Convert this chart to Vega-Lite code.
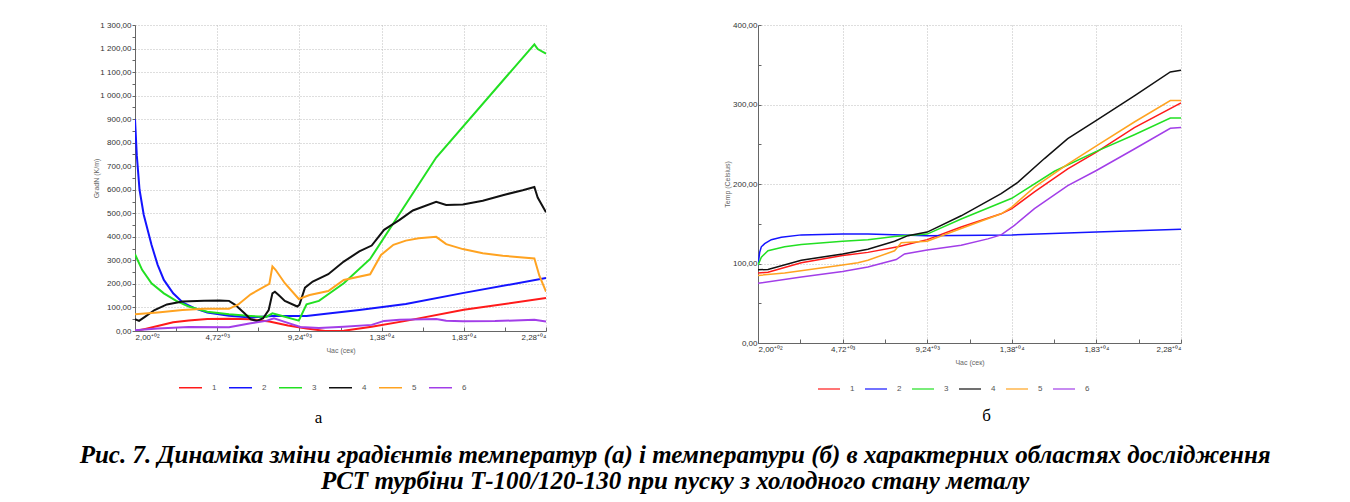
{
  "$schema": "https://vega.github.io/schema/vega-lite/v6.json",
  "background": "white",
  "padding": {"left": 79, "top": 21, "right": 10, "bottom": 5},
  "title": {
    "text": ["Рис. 7. Динаміка зміни градієнтів температур (а) і температури (б) в характерних областях дослідження", "РСТ турбіни Т-100/120-130 при пуску з холодного стану металу"],
    "orient": "bottom", "anchor": "middle", "font": "Liberation Serif", "fontSize": 25,
    "fontStyle": "italic", "fontWeight": "bold", "color": "black", "lineHeight": 26, "offset": 17, "dx": 38
  },
  "datasets": {
    "grad": [
      {"t":200,"s":"1","v":0},{"t":763,"s":"1","v":9},{"t":1446,"s":"1","v":21},{"t":2299,"s":"1","v":37},{"t":3151,"s":"1","v":45},{"t":4174,"s":"1","v":51},{"t":5368,"s":"1","v":52},{"t":6562,"s":"1","v":50},{"t":7586,"s":"1","v":40},{"t":8610,"s":"1","v":23},{"t":9633,"s":"1","v":11},{"t":10656,"s":"1","v":0},{"t":11680,"s":"1","v":1},{"t":13215,"s":"1","v":18},{"t":15092,"s":"1","v":43},{"t":18280,"s":"1","v":90},{"t":22800,"s":"1","v":140},
      {"t":200,"s":"2","v":900},{"t":300,"s":"2","v":745},{"t":450,"s":"2","v":600},{"t":680,"s":"2","v":494},{"t":1107,"s":"2","v":366},{"t":1446,"s":"2","v":281},{"t":1787,"s":"2","v":217},{"t":2299,"s":"2","v":160},{"t":2810,"s":"2","v":122},{"t":3492,"s":"2","v":96},{"t":4174,"s":"2","v":79},{"t":5368,"s":"2","v":65},{"t":6562,"s":"2","v":57},{"t":7757,"s":"2","v":64},{"t":9633,"s":"2","v":64},{"t":10827,"s":"2","v":74},{"t":12533,"s":"2","v":89},{"t":15092,"s":"2","v":115},{"t":18280,"s":"2","v":162},{"t":22800,"s":"2","v":225},
      {"t":200,"s":"3","v":326},{"t":592,"s":"3","v":260},{"t":1107,"s":"3","v":203},{"t":1787,"s":"3","v":160},{"t":2469,"s":"3","v":128},{"t":3151,"s":"3","v":104},{"t":4174,"s":"3","v":82},{"t":5368,"s":"3","v":71},{"t":6562,"s":"3","v":64},{"t":7416,"s":"3","v":60},{"t":7757,"s":"3","v":75},{"t":8098,"s":"3","v":68},{"t":9207,"s":"3","v":44},{"t":9633,"s":"3","v":113},{"t":10315,"s":"3","v":128},{"t":10827,"s":"3","v":156},{"t":11680,"s":"3","v":203},{"t":13130,"s":"3","v":306},{"t":16762,"s":"3","v":737},{"t":22160,"s":"3","v":1218},{"t":22343,"s":"3","v":1198},{"t":22800,"s":"3","v":1178},
      {"t":200,"s":"4","v":50},{"t":422,"s":"4","v":43},{"t":763,"s":"4","v":61},{"t":1275,"s":"4","v":89},{"t":1957,"s":"4","v":113},{"t":2810,"s":"4","v":125},{"t":4004,"s":"4","v":129},{"t":4856,"s":"4","v":130},{"t":5368,"s":"4","v":128},{"t":5709,"s":"4","v":111},{"t":6221,"s":"4","v":75},{"t":6562,"s":"4","v":50},{"t":6903,"s":"4","v":43},{"t":7245,"s":"4","v":54},{"t":7552,"s":"4","v":89},{"t":7757,"s":"4","v":160},{"t":7893,"s":"4","v":167},{"t":8098,"s":"4","v":153},{"t":8439,"s":"4","v":128},{"t":9122,"s":"4","v":104},{"t":9240,"s":"4","v":111},{"t":9547,"s":"4","v":184},{"t":9974,"s":"4","v":210},{"t":10827,"s":"4","v":241},{"t":11680,"s":"4","v":295},{"t":12533,"s":"4","v":338},{"t":13215,"s":"4","v":363},{"t":13897,"s":"4","v":430},{"t":14750,"s":"4","v":472},{"t":15480,"s":"4","v":512},{"t":16762,"s":"4","v":549},{"t":17311,"s":"4","v":535},{"t":18226,"s":"4","v":537},{"t":19324,"s":"4","v":553},{"t":20422,"s":"4","v":577},{"t":21520,"s":"4","v":598},{"t":22160,"s":"4","v":612},{"t":22343,"s":"4","v":567},{"t":22800,"s":"4","v":504},
      {"t":200,"s":"5","v":71},{"t":1446,"s":"5","v":79},{"t":2810,"s":"5","v":89},{"t":4004,"s":"5","v":94},{"t":5368,"s":"5","v":94},{"t":5880,"s":"5","v":113},{"t":6562,"s":"5","v":156},{"t":7586,"s":"5","v":200},{"t":7757,"s":"5","v":274},{"t":7928,"s":"5","v":260},{"t":8439,"s":"5","v":203},{"t":9207,"s":"5","v":136},{"t":9804,"s":"5","v":153},{"t":10827,"s":"5","v":170},{"t":11680,"s":"5","v":217},{"t":13130,"s":"5","v":241},{"t":13727,"s":"5","v":323},{"t":14409,"s":"5","v":366},{"t":15092,"s":"5","v":384},{"t":15800,"s":"5","v":394},{"t":16762,"s":"5","v":400},{"t":17311,"s":"5","v":369},{"t":18226,"s":"5","v":348},{"t":19324,"s":"5","v":330},{"t":20422,"s":"5","v":320},{"t":22160,"s":"5","v":308},{"t":22435,"s":"5","v":235},{"t":22800,"s":"5","v":167},
      {"t":200,"s":"6","v":3},{"t":1446,"s":"6","v":11},{"t":3151,"s":"6","v":17},{"t":5368,"s":"6","v":16},{"t":6562,"s":"6","v":33},{"t":7416,"s":"6","v":43},{"t":7842,"s":"6","v":54},{"t":8268,"s":"6","v":43},{"t":9292,"s":"6","v":17},{"t":10315,"s":"6","v":13},{"t":11680,"s":"6","v":18},{"t":13215,"s":"6","v":26},{"t":13897,"s":"6","v":43},{"t":14750,"s":"6","v":48},{"t":16762,"s":"6","v":51},{"t":17311,"s":"6","v":44},{"t":18226,"s":"6","v":41},{"t":20000,"s":"6","v":42},{"t":22160,"s":"6","v":48},{"t":22800,"s":"6","v":40}
    ],
    "temp": [
      {"t":200,"s":"1","v":88},{"t":734,"s":"1","v":89},{"t":2513,"s":"1","v":101},{"t":4720,"s":"1","v":110},{"t":6072,"s":"1","v":114},{"t":7674,"s":"1","v":121},{"t":9240,"s":"1","v":130},{"t":11055,"s":"1","v":146},{"t":13190,"s":"1","v":162.5},{"t":13760,"s":"1","v":169},{"t":14970,"s":"1","v":190},{"t":16749,"s":"1","v":219},{"t":18280,"s":"1","v":240},{"t":20308,"s":"1","v":271},{"t":22800,"s":"1","v":302},
      {"t":200,"s":"2","v":97.6},{"t":289,"s":"2","v":114},{"t":378,"s":"2","v":121},{"t":556,"s":"2","v":125},{"t":912,"s":"2","v":130},{"t":1446,"s":"2","v":133},{"t":2513,"s":"2","v":136},{"t":4720,"s":"2","v":137},{"t":6072,"s":"2","v":137},{"t":9240,"s":"2","v":135},{"t":13760,"s":"2","v":136},{"t":18280,"s":"2","v":139.5},{"t":22800,"s":"2","v":143},
      {"t":200,"s":"3","v":98},{"t":378,"s":"3","v":108},{"t":734,"s":"3","v":116},{"t":1624,"s":"3","v":121},{"t":2513,"s":"3","v":124},{"t":4720,"s":"3","v":128},{"t":6072,"s":"3","v":130},{"t":7496,"s":"3","v":134},{"t":9240,"s":"3","v":137},{"t":11055,"s":"3","v":156},{"t":13760,"s":"3","v":182},{"t":16038,"s":"3","v":216},{"t":18280,"s":"3","v":241},{"t":20308,"s":"3","v":262},{"t":22230,"s":"3","v":283},{"t":22800,"s":"3","v":283},
      {"t":200,"s":"4","v":92},{"t":734,"s":"4","v":92.6},{"t":2513,"s":"4","v":104},{"t":4720,"s":"4","v":112},{"t":6072,"s":"4","v":118},{"t":7496,"s":"4","v":128},{"t":8208,"s":"4","v":135},{"t":9240,"s":"4","v":139.5},{"t":11055,"s":"4","v":160},{"t":13190,"s":"4","v":188},{"t":14080,"s":"4","v":202},{"t":15504,"s":"4","v":232},{"t":16749,"s":"4","v":257},{"t":18280,"s":"4","v":280},{"t":20308,"s":"4","v":311},{"t":22230,"s":"4","v":341},{"t":22800,"s":"4","v":343},
      {"t":200,"s":"5","v":85},{"t":1624,"s":"5","v":88},{"t":4720,"s":"5","v":98},{"t":5539,"s":"5","v":101},{"t":6072,"s":"5","v":104},{"t":7496,"s":"5","v":116},{"t":7852,"s":"5","v":126},{"t":9240,"s":"5","v":128},{"t":11055,"s":"5","v":144},{"t":13190,"s":"5","v":162.5},{"t":13760,"s":"5","v":171},{"t":14970,"s":"5","v":196},{"t":16749,"s":"5","v":225},{"t":18280,"s":"5","v":248},{"t":20308,"s":"5","v":278},{"t":22230,"s":"5","v":305},{"t":22800,"s":"5","v":305},
      {"t":200,"s":"6","v":75},{"t":2513,"s":"6","v":83},{"t":4720,"s":"6","v":90},{"t":6072,"s":"6","v":95.5},{"t":7585,"s":"6","v":105},{"t":8030,"s":"6","v":112},{"t":9240,"s":"6","v":117},{"t":11055,"s":"6","v":123},{"t":12479,"s":"6","v":131},{"t":13190,"s":"6","v":136},{"t":13902,"s":"6","v":148},{"t":14970,"s":"6","v":169},{"t":16749,"s":"6","v":198},{"t":18280,"s":"6","v":217},{"t":20308,"s":"6","v":244},{"t":22230,"s":"6","v":270},{"t":22800,"s":"6","v":271}
    ]
  },
  "spacing": 176,
  "resolve": {"legend": {"color": "independent"}, "scale": {"color": "shared"}},
  "hconcat": [
    {
      "width": 411, "height": 306,
      "data": {"name": "grad"},
      "title": {"text": "а", "orient": "bottom", "anchor": "middle", "font": "Liberation Serif", "fontSize": 17, "fontWeight": "normal", "color": "black", "dx": -22, "offset": 18},
      "mark": {"type": "line", "strokeWidth": 2, "clip": true},
      "encoding": {
        "x": {"field": "t", "type": "quantitative", "scale": {"domain": [200, 22800], "nice": false, "zero": false},
          "axis": {"title": "Час (сек)", "values": [200, 2460, 4720, 6980, 9240, 11500, 13760, 16020, 18280, 20540, 22800],
            "labelExpr": "(datum.value - 200) % 4520 != 0 ? '' : replace(format(datum.value / pow(10, floor(log(datum.value) / LN10)), '.2f'), '.', ',') + (datum.value < 1000 ? '⁺⁰²' : datum.value < 10000 ? '⁺⁰³' : '⁺⁰⁴')",
            "gridOpacity": {"condition": {"test": "(datum.value - 200) % 4520 != 0", "value": 0}, "value": 1},
            "tickSize": -4, "labelPadding": 6, "titlePadding": 5}},
        "y": {"field": "v", "type": "quantitative", "scale": {"domain": [0, 1300], "nice": false},
          "axis": {"title": "GradN (K/m)", "values": [0,50,100,150,200,250,300,350,400,450,500,550,600,650,700,750,800,850,900,950,1000,1050,1100,1150,1200,1250,1300],
            "labelExpr": "datum.value % 100 != 0 ? '' : replace(replace(format(datum.value, ',.2f'), ',', ' '), '.', ',')",
            "gridOpacity": {"condition": {"test": "datum.value % 100 != 0", "value": 0}, "value": 1},
            "tickSize": 3, "labelPadding": 1, "titlePadding": 0}},
        "color": {"field": "s", "type": "nominal",
          "scale": {"domain": ["1","2","3","4","5","6"], "range": ["#ff1a1a","#1414ff","#22e022","#111111","#ffa321","#a23ee8"]},
          "legend": {"title": null, "orient": "none", "legendX": 43, "legendY": 350, "direction": "horizontal", "symbolType": "stroke", "symbolSize": 529, "symbolStrokeWidth": 1.5, "labelFontSize": 8, "labelColor": "#555", "labelOffset": 9, "columnPadding": 9, "padding": 0}}
      }
    },
    {
      "width": 423, "height": 318,
      "data": {"name": "temp"},
      "title": {"text": "б", "orient": "bottom", "anchor": "middle", "font": "Liberation Serif", "fontSize": 17, "fontWeight": "normal", "color": "black", "dx": 17, "offset": 15},
      "mark": {"type": "line", "strokeWidth": 1.5, "clip": true},
      "encoding": {
        "x": {"field": "t", "type": "quantitative", "scale": {"domain": [200, 22800], "nice": false, "zero": false},
          "axis": {"title": "Час (сек)", "values": [200, 2460, 4720, 6980, 9240, 11500, 13760, 16020, 18280, 20540, 22800],
            "labelExpr": "(datum.value - 200) % 4520 != 0 ? '' : replace(format(datum.value / pow(10, floor(log(datum.value) / LN10)), '.2f'), '.', ',') + (datum.value < 1000 ? '⁺⁰²' : datum.value < 10000 ? '⁺⁰³' : '⁺⁰⁴')",
            "gridOpacity": {"condition": {"test": "(datum.value - 200) % 4520 != 0", "value": 0}, "value": 1},
            "tickSize": -4, "labelPadding": 6, "titlePadding": 5}},
        "y": {"field": "v", "type": "quantitative", "scale": {"domain": [0, 400], "nice": false},
          "axis": {"title": "Temp (Celsius)", "values": [0,50,100,150,200,250,300,350,400],
            "labelExpr": "datum.value % 100 != 0 ? '' : replace(format(datum.value, '.2f'), '.', ',')",
            "gridOpacity": {"condition": {"test": "datum.value % 100 != 0", "value": 0}, "value": 1},
            "tickSize": -3, "labelPadding": 4, "titlePadding": 2}},
        "color": {"field": "s", "type": "nominal",
          "scale": {"domain": ["1","2","3","4","5","6"], "range": ["#ff1a1a","#1414ff","#22e022","#111111","#ffa321","#a23ee8"]},
          "legend": {"title": null, "orient": "none", "legendX": 59, "legendY": 352, "direction": "horizontal", "symbolType": "stroke", "symbolSize": 484, "symbolStrokeWidth": 1.2, "labelFontSize": 8, "labelColor": "#555", "labelOffset": 9, "columnPadding": 7, "padding": 0}}
      }
    }
  ],
  "config": {
    "view": {"stroke": null},
    "axis": {"gridColor": "#bdbdbd", "gridDash": [1, 2], "gridWidth": 1, "domainColor": "#666", "tickColor": "#666",
      "labelFont": "Liberation Sans", "labelFontSize": 8, "labelColor": "#333",
      "titleFont": "Liberation Sans", "titleFontSize": 7, "titleFontWeight": "normal", "titleColor": "#666"},
    "legend": {"labelFont": "Liberation Sans"}
  }
}
